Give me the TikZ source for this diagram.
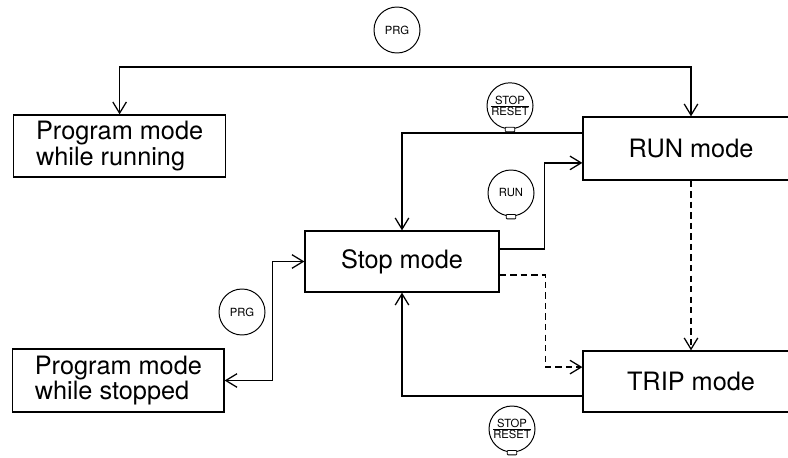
\documentclass[tikz,border=0pt]{standalone}
\usepackage{fontspec}
\setmainfont{TeX Gyre Heros}
\usetikzlibrary{arrows.meta}

\begin{document}
\begin{tikzpicture}[
                mode/.style={draw, line width=0.9pt, inner sep=0pt, minimum height=1.55cm, align=left, font=\fontsize{18}{17}\selectfont},
                key/.style={draw, circle, line width=0.7pt, minimum size=1.15cm, inner sep=0pt, font=\fontsize{8}{8}\selectfont},
                link/.style={line width=0.9pt},
                trip/.style={dash pattern=on 4.5pt off 3pt},
                >={Straight Barb[length=2.8mm, width=3.4mm]}
            ]

                % Fix the page size to the reference
                \useasboundingbox (0,0) rectangle (19.7,11.425);
                \clip (0,0) rectangle (19.7,11.425);

                % The mode boxes
                \node[mode, minimum width=5.3cm] (progrun) at (2.99,7.775) {Program mode\\while running};
                \node[mode, minimum width=5.4cm, minimum height=1.575cm] (run) at (17.275,7.7125) {RUN mode};
                \node[mode, minimum width=4.85cm, minimum height=1.525cm] (stop) at (10.05,4.8875) {Stop mode};
                \node[mode, minimum width=5.28cm, minimum height=1.575cm] (progstop) at (2.96,1.9125) {Program mode\\while stopped};
                \node[mode, minimum width=5.4cm, minimum height=1.525cm] (trip) at (17.275,1.8875) {TRIP mode};

                % The keys
                \node[key] (prgtop) at (9.925,10.675) {PRG};
                \node[key] (stoptop) at (12.75,8.78) {$\frac{\mbox{STOP}}{\mbox{RESET}}$};
                \node[key] (runkey) at (12.775,6.6) {RUN};
                \node[key] (prgbot) at (6.05,3.625) {PRG};
                \node[key] (stopbot) at (12.8,0.7) {$\frac{\mbox{STOP}}{\mbox{RESET}}$};

                % Small lamp under some keys
                \foreach \k in {stoptop, runkey, stopbot}
                    \draw[line width=0.6pt, fill=white, rounded corners=0.6pt] ([xshift=-0.12cm, yshift=-0.06cm]\k.south) rectangle ([xshift=0.12cm, yshift=0.05cm]\k.south);

                % PRG while running
                \coordinate (ptop) at (9.925,9.75);
                \draw[link, <->] (progrun.north) |- (ptop) -| (run.north);

                % STOP/RESET from RUN
                \draw[link, ->] ([yshift=0.39cm]run.west) -| (stop.north);

                % RUN from Stop
                \draw[link, ->] ([yshift=0.31cm]stop.east) -- ++(1.125,0) |- ([yshift=-0.36cm]run.west);

                % Trips (dashed)
                \draw[link, trip, ->] ([yshift=-0.34cm]stop.east) -- ++(1.15,0) |- ([yshift=0.36cm]trip.west);
                \draw[link, trip, ->] (run.south) -- (trip.north);

                % STOP/RESET from TRIP
                \draw[link, ->] ([yshift=-0.36cm]trip.west) -| (stop.south);

                % PRG while stopped
                \draw[link, <->] (stop.west) -- ++(-0.8,0) |- (progstop.east);

            \end{tikzpicture}
\end{document}
